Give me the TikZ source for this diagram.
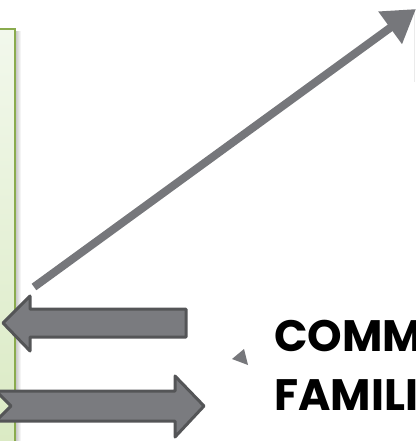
\documentclass[tikz,border=0pt]{standalone}
\usepackage{fontspec}
\setmainfont{Poppins}[BoldFont={Poppins Bold}]
\usetikzlibrary{arrows.meta}
\definecolor{arrowgray}{HTML}{76777B}
\definecolor{blockfill}{HTML}{7A7B7F}
\definecolor{blockline}{HTML}{545557}
\definecolor{boxtop}{HTML}{F2F8EC}
\definecolor{boxbot}{HTML}{DAEAC3}
\definecolor{boxline}{HTML}{8AAB4E}
\tikzset{
  blockarrow/.style={fill=blockfill, draw=blockline, line width=3pt, line join=round},
  diagarrow/.style={draw=arrowgray, line width=8pt, -{Triangle[length=32pt,width=38pt]}},
  bigtext/.style={font=\fontsize{44}{50}\selectfont\bfseries, text=black, anchor=base west, inner sep=0pt}
}
\begin{document}
\begin{tikzpicture}[x=1pt,y=-1pt]
\useasboundingbox (0,0) rectangle (415,441);
% shadow of the green box
\shade[left color=black!25, right color=white] (15,32) rectangle (21,441);
% green box
\shade[top color=boxtop, bottom color=boxbot] (-10,29) rectangle (15,450);
\draw[boxline, line width=1.5pt] (-10,29) -- (15,29) -- (15,450);
% faint text-box edge at right
\draw[black!8, line width=0.8pt] (414,10) -- (414,82);
% diagonal arrow
\coordinate (dstart) at (34,287);
\coordinate (dend) at (416,9);
\draw[diagarrow] (dstart) -- (dend);
% left-pointing block arrow
\draw[blockarrow] (3,323) -- (30,296) -- (30,309) -- (186,309) -- (186,337) -- (30,337) -- (30,351) -- cycle;
% right-pointing notched block arrow
\draw[blockarrow] (-4,391) -- (175,391) -- (175,376) -- (204,406) -- (175,437) -- (175,421) -- (-4,421) -- (11,406) -- cycle;
% small triangle
\fill[arrowgray] (232,359) -- (244,349) -- (248,365) -- cycle;
% text
\node[bigtext] (t1) at (274,351) {COMM};
\node[bigtext] (t2) at (274,410) {FAMILI};
\end{tikzpicture}
\end{document}
